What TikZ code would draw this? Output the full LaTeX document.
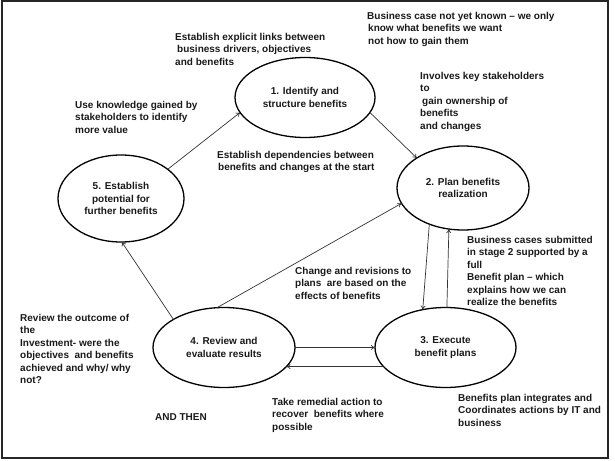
\documentclass[tikz,border=0pt]{standalone}
\usepackage{fontspec}
\setmainfont{Liberation Sans}
\usetikzlibrary{shapes.geometric,arrows.meta}
\begin{document}
\begin{tikzpicture}[x=1pt,y=-1pt,
  every node/.style={font=\bfseries\fontsize{10}{12.4}\selectfont, text=black!90, inner sep=0pt},
  stage/.style={ellipse, draw=black, line width=1.3pt, align=center, inner sep=0pt, outer sep=0pt},
  note/.style={anchor=north west, align=left},
  link/.style={draw=black!80, line width=0.7pt, -{To[length=4pt,width=5pt]}}
]
\useasboundingbox (0,0) rectangle (615,460);
\draw[black!85, line width=2pt] (1.5,1.5) rectangle (608,458);

\node[stage, minimum width=140pt, minimum height=80pt] (e1) at (305,97.5) {1. Identify and\\structure benefits};
\node[stage, minimum width=132pt, minimum height=84pt] (e2) at (463,188) {2. Plan benefits\\realization};
\node[stage, minimum width=141pt, minimum height=80pt] (e3) at (445.5,347.5) {3. Execute\\benefit plans};
\node[stage, minimum width=142pt, minimum height=80pt] (e4) at (224,347.5) {4. Review and\\evaluate results};
\node[stage, minimum width=126pt, minimum height=87pt] (e5) at (121,198.5) {5. Establish\\potential for\\further benefits};

\draw[link] (e5.32) -- (e1.193);
\draw[link] (e1.347) -- (e2.147);
\draw[link] (e4.100) -- (e2.194);
\draw[link] (e2.227) -- (e3.121);
\draw[link] (e3.88.5) -- (e2.251);
\draw[link] (e4.0) -- (e3.180);
\draw[link] (e3.197) -- (e4.-17);
\draw[link] (e4.151) -- (e5.271);

\node[note] (tA) at (175,33) {Establish explicit links between\\\hspace{2pt}business drivers, objectives\\and benefits};
\node[note] (tB) at (367,12) {Business case not yet known -- we only\\\hspace{1pt}know what benefits we want\\\hspace{1pt}not how to gain them};
\node[note] (tC) at (75,101) {Use knowledge gained by\\stakeholders to identify\\more value};
\node[note] (tD) at (420,72) {Involves key stakeholders\\to\\\hspace{2pt}gain ownership of\\benefits\\and changes};
\node[note] (tE) at (217,151) {Establish dependencies between\\\hspace{1pt}benefits and changes at the start};
\node[note] (tF) at (295,267) {Change and revisions to\\plans\ \ are based on the\\effects of benefits};
\node[note] (tG) at (467,236) {Business cases submitted\\in stage 2 supported by a\\full\\Benefit plan -- which\\explains how we can\\realize the benefits};
\node[note] (tH) at (20,314) {Review the outcome of\\the\\Investment- were the\\objectives\ \ and benefits\\achieved and why/ why\\not?};
\node[note] (tI) at (155,413) {AND THEN};
\node[note] (tJ) at (272,398) {Take remedial action to\\recover\ \ benefits where\\possible};
\node[note] (tK) at (458,394) {Benefits plan integrates and\\Coordinates actions by IT and\\business};
\end{tikzpicture}
\end{document}
